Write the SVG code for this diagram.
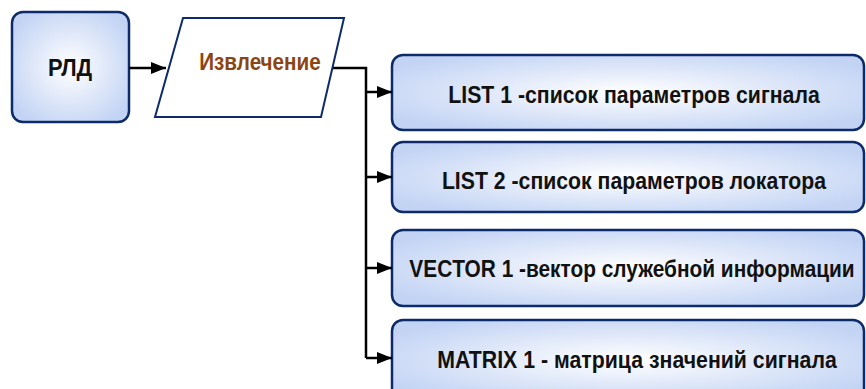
<svg xmlns="http://www.w3.org/2000/svg" width="866" height="389" viewBox="0 0 866 389">
<defs>
<radialGradient id="g" cx="50%" cy="50%" r="60%">
<stop offset="0" stop-color="#ffffff"/>
<stop offset="1" stop-color="#c2d3f4"/>
</radialGradient>
<marker id="ah" markerWidth="15" markerHeight="12" refX="15" refY="6" orient="auto" markerUnits="userSpaceOnUse">
<path d="M0,0 L15,6 L0,12 Z" fill="#000"/>
</marker>
</defs>
<style>
.box{fill:url(#g);stroke:#0d2b6b;stroke-width:2.5}
.par{fill:#fff;stroke:#0d2b6b;stroke-width:2}
.t{font-family:"Liberation Sans",Arial,sans-serif;font-weight:bold;font-size:24px;fill:#111;text-anchor:middle}
.c{fill:none;stroke:#000;stroke-width:2.5}
</style>
<g id="rld">
<rect class="box" x="12" y="12" width="117" height="110" rx="11"/>
<text class="t" transform="translate(70,76) scale(0.85,1)" textLength="52" lengthAdjust="spacingAndGlyphs">РЛД</text>
</g>
<g id="extract">
<polygon class="par" points="183,18 344,18 321,117 155,117"/>
<text class="t" transform="translate(260,70) scale(0.85,1)" textLength="143" lengthAdjust="spacingAndGlyphs" style="fill:#8b4513">Извлечение</text>
</g>
<g id="list1">
<rect class="box" x="392" y="55" width="472" height="75" rx="11"/>
<text class="t" transform="translate(634,103) scale(0.85,1)" textLength="437" lengthAdjust="spacingAndGlyphs">LIST 1 -список параметров сигнала</text>
</g>
<g id="list2">
<rect class="box" x="392" y="142" width="472" height="70" rx="11"/>
<text class="t" transform="translate(634,189) scale(0.85,1)" textLength="452" lengthAdjust="spacingAndGlyphs">LIST 2 -список параметров локатора</text>
</g>
<g id="vector1">
<rect class="box" x="392" y="230" width="472" height="76" rx="11"/>
<text class="t" transform="translate(632,277) scale(0.85,1)" textLength="524" lengthAdjust="spacingAndGlyphs">VECTOR 1 -вектор служебной информации</text>
</g>
<g id="matrix1">
<rect class="box" x="392" y="320" width="472" height="80" rx="11"/>
<text class="t" transform="translate(637,368) scale(0.85,1)" textLength="470" lengthAdjust="spacingAndGlyphs">MATRIX 1 - матрица значений сигнала</text>
</g>
<g id="connectors">
<path class="c" d="M129,68 L166,68" marker-end="url(#ah)"/>
<path class="c" d="M333,68 L366,68 L366,358"/>
<path class="c" d="M366,92 L392,92" marker-end="url(#ah)"/>
<path class="c" d="M366,177 L392,177" marker-end="url(#ah)"/>
<path class="c" d="M366,268 L392,268" marker-end="url(#ah)"/>
<path class="c" d="M366,358 L392,358" marker-end="url(#ah)"/>
</g>
</svg>
